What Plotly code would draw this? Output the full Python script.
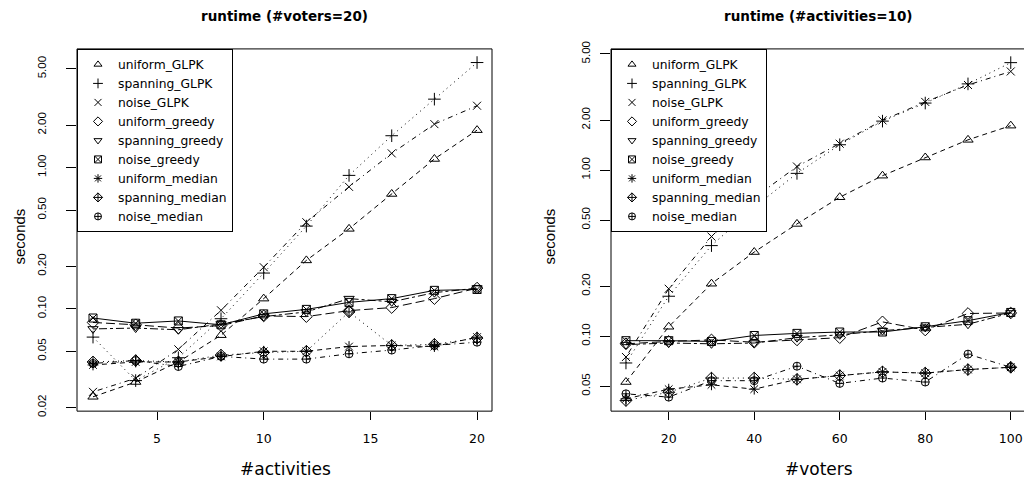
import plotly.graph_objects as go

# ---------------- data ----------------
series_names = ["uniform_GLPK", "spanning_GLPK", "noise_GLPK",
                "uniform_greedy", "spanning_greedy", "noise_greedy",
                "uniform_median", "spanning_median", "noise_median"]

activities = [2, 4, 6, 8, 10, 12, 14, 16, 18, 20]
left_uniform_GLPK = [0.0238, 0.0303, 0.042, 0.065, 0.118, 0.22, 0.368, 0.65, 1.15, 1.84]
left_spanning_GLPK = [0.063, 0.031, 0.045, 0.085, 0.179, 0.385, 0.88, 1.68, 3.05, 5.54]
left_noise_GLPK = [0.0258, 0.0322, 0.0516, 0.0975, 0.197, 0.41, 0.73, 1.26, 2.03, 2.74]
left_uniform_greedy = [0.080, 0.077, 0.073, 0.076, 0.089, 0.088, 0.097, 0.102, 0.118, 0.140]
left_spanning_greedy = [0.072, 0.073, 0.071, 0.078, 0.088, 0.095, 0.118, 0.112, 0.130, 0.140]
left_noise_greedy = [0.086, 0.079, 0.082, 0.077, 0.092, 0.099, 0.111, 0.118, 0.135, 0.137]
left_uniform_median = [0.040, 0.042, 0.042, 0.046, 0.050, 0.050, 0.054, 0.055, 0.054, 0.063]
left_spanning_median = [0.042, 0.043, 0.042, 0.047, 0.049, 0.050, 0.095, 0.055, 0.056, 0.062]
left_noise_median = [0.041, 0.043, 0.039, 0.046, 0.044, 0.044, 0.048, 0.051, 0.055, 0.058]

voters = [10, 20, 30, 40, 50, 60, 70, 80, 90, 100]
right_uniform_GLPK = [0.053, 0.114, 0.207, 0.321, 0.474, 0.686, 0.925, 1.19, 1.52, 1.85]
right_spanning_GLPK = [0.069, 0.174, 0.351, 0.597, 0.955, 1.42, 1.97, 2.53, 3.30, 4.43]
right_noise_GLPK = [0.075, 0.193, 0.398, 0.68, 1.05, 1.44, 1.99, 2.57, 3.25, 3.92]
right_uniform_greedy = [0.090, 0.093, 0.095, 0.092, 0.095, 0.098, 0.122, 0.109, 0.137, 0.138]
right_spanning_greedy = [0.089, 0.091, 0.090, 0.091, 0.098, 0.102, 0.108, 0.113, 0.118, 0.138]
right_noise_greedy = [0.094, 0.094, 0.093, 0.101, 0.104, 0.106, 0.106, 0.114, 0.124, 0.139]
right_uniform_median = [0.042, 0.048, 0.051, 0.048, 0.055, 0.058, 0.061, 0.060, 0.063, 0.065]
right_spanning_median = [0.041, 0.046, 0.056, 0.056, 0.055, 0.058, 0.061, 0.060, 0.063, 0.065]
right_noise_median = [0.045, 0.043, 0.054, 0.054, 0.066, 0.052, 0.056, 0.053, 0.078, 0.065]

left_series = [left_uniform_GLPK, left_spanning_GLPK, left_noise_GLPK,
               left_uniform_greedy, left_spanning_greedy, left_noise_greedy,
               left_uniform_median, left_spanning_median, left_noise_median]
right_series = [right_uniform_GLPK, right_spanning_GLPK, right_noise_GLPK,
                right_uniform_greedy, right_spanning_greedy, right_noise_greedy,
                right_uniform_median, right_spanning_median, right_noise_median]

y_tickvals = [0.02, 0.05, 0.1, 0.2, 0.5, 1, 2, 5]
y_ticktext = ["0.02", "0.05", "0.10", "0.20", "0.50", "1.00", "2.00", "5.00"]
left_xticks = [5, 10, 15, 20]
right_xticks = [20, 40, 60, 80, 100]

title_left = "runtime (#voters=20)"
title_right = "runtime (#activities=10)"
xlabel_left = "#activities"
xlabel_right = "#voters"
ylabel = "seconds"

# ---------------- styles ----------------
symbols = ["triangle-up-open", "cross-thin-open", "x-thin-open", "diamond-open",
           "triangle-down-open", "square-x-open", "asterisk-open",
           "diamond-cross-open", "circle-cross-open"]
DASHED = "5px,4px"
DOTTED = "1px,4px"
DOTDASH = "1px,4px,5px,4px"
LONGDASH = "9px,4px"
TWODASH = "3px,3px,8px,3px"
SOLID = "solid"
dashes = [DASHED, DOTTED, DOTDASH, LONGDASH, TWODASH, SOLID, DASHED, DOTTED, DOTDASH]
sizes = [9, 9, 8, 9, 9, 8, 9, 9, 8]

fig = go.Figure()

W, H = 1024, 482
def px_x(p):
    return p / W
def px_y(p):
    # compensate for the vertical mapping observed in the capture
    d = (p - 7.0) / 0.973
    return 1 - d / H

L_DOM = [px_x(77), px_x(492)]
R_DOM = [px_x(611), 1.0]
Y_DOM = [px_y(411), px_y(48)]

for panel, (xs, data, xa, ya, lg) in enumerate([
        (activities, left_series, "x", "y", "legend"),
        (voters, right_series, "x2", "y2", "legend2")]):
    for i, name in enumerate(series_names):
        fig.add_trace(go.Scatter(
            x=xs, y=data[i], mode="lines+markers", name=name,
            xaxis=xa, yaxis=ya, showlegend=False,
            line=dict(color="black", width=1, dash=dashes[i]),
            marker=dict(symbol=symbols[i], size=sizes[i], color="black",
                        line=dict(color="black", width=1)),
        ))
    for i, name in enumerate(series_names):
        fig.add_trace(go.Scatter(
            x=[None], y=[None], mode="markers", name=name,
            xaxis=xa, yaxis=ya, legend=lg, showlegend=True,
            marker=dict(symbol=symbols[i], size=7, color="black",
                        line=dict(color="black", width=1)),
        ))

xfont = dict(family="DejaVu Sans", size=12.5, color="black")
yfont = dict(family="Liberation Sans", size=11.5, color="black")

common_x = dict(showgrid=False, zeroline=False, showline=False, ticks="outside",
                ticklen=8, tickwidth=1, tickcolor="black", tickfont=xfont,
                ticklabelstandoff=8)
common_y = dict(type="log", showgrid=False, zeroline=False, showline=False,
                ticks="outside", ticklen=10, tickwidth=1, tickcolor="black",
                tickfont=yfont, tickangle=-90, tickvals=y_tickvals,
                ticktext=y_ticktext)

legend_font = dict(family="DejaVu Sans", size=12.3, color="black")

fig.update_layout(
    width=W, height=H,
    margin=dict(l=0, r=0, t=0, b=0),
    paper_bgcolor="white", plot_bgcolor="white",
    xaxis=dict(domain=L_DOM, range=[1.25, 20.70], tickvals=left_xticks,
               anchor="y", **common_x),
    yaxis=dict(domain=Y_DOM, range=[-1.725, 0.840], anchor="x",
               ticklabelstandoff=15, **common_y),
    xaxis2=dict(domain=R_DOM, range=[6.5, 103.1], tickvals=right_xticks,
                anchor="y2", **common_x),
    yaxis2=dict(domain=Y_DOM, range=[-1.451, 0.729], anchor="x2",
                ticklabelstandoff=5, **common_y),
    legend=dict(x=L_DOM[0], y=Y_DOM[1], xanchor="left", yanchor="top",
                bordercolor="black", borderwidth=1, bgcolor="white",
                font=legend_font, tracegroupgap=0, itemwidth=30),
    legend2=dict(x=R_DOM[0], y=Y_DOM[1], xanchor="left", yanchor="top",
                 bordercolor="black", borderwidth=1, bgcolor="white",
                 font=legend_font, tracegroupgap=0, itemwidth=30),
    shapes=[
        dict(type="rect", xref="paper", yref="paper", x0=L_DOM[0], x1=L_DOM[1],
             y0=Y_DOM[0], y1=Y_DOM[1], line=dict(color="black", width=1)),
        dict(type="rect", xref="paper", yref="paper", x0=R_DOM[0], x1=1.02,
             y0=Y_DOM[0], y1=Y_DOM[1], line=dict(color="black", width=1)),
    ],
    annotations=[
        dict(text="<b>" + title_left + "</b>", x=px_x(284.5), y=px_y(15),
             xref="paper", yref="paper", showarrow=False, xanchor="center",
             yanchor="middle", font=dict(family="DejaVu Sans", size=13.5, color="black")),
        dict(text="<b>" + title_right + "</b>", x=px_x(818.5), y=px_y(15),
             xref="paper", yref="paper", showarrow=False, xanchor="center",
             yanchor="middle", font=dict(family="DejaVu Sans", size=13.5, color="black")),
        dict(text=xlabel_left, x=px_x(285), y=px_y(469), xref="paper", yref="paper",
             showarrow=False, xanchor="center", yanchor="middle",
             font=dict(family="DejaVu Sans", size=17, color="black")),
        dict(text=xlabel_right, x=px_x(818.5), y=px_y(469), xref="paper", yref="paper",
             showarrow=False, xanchor="center", yanchor="middle",
             font=dict(family="DejaVu Sans", size=17, color="black")),
        dict(text=ylabel, x=px_x(20), y=px_y(236), xref="paper", yref="paper",
             showarrow=False, xanchor="center", yanchor="middle", textangle=-90,
             font=dict(family="Liberation Sans", size=15, color="black")),
        dict(text=ylabel, x=px_x(550), y=px_y(236), xref="paper", yref="paper",
             showarrow=False, xanchor="center", yanchor="middle", textangle=-90,
             font=dict(family="Liberation Sans", size=15, color="black")),
    ],
)

post = ("var d=document.getElementById('{plot_id}');"
        "d.style.position='fixed';d.style.top='0px';d.style.left='0px';"
        "document.body.style.margin='0px';document.body.style.overflow='hidden';"
        "document.documentElement.style.overflow='hidden';")

fig.write_html("out.html", config={"displayModeBar": False}, post_script=post)
